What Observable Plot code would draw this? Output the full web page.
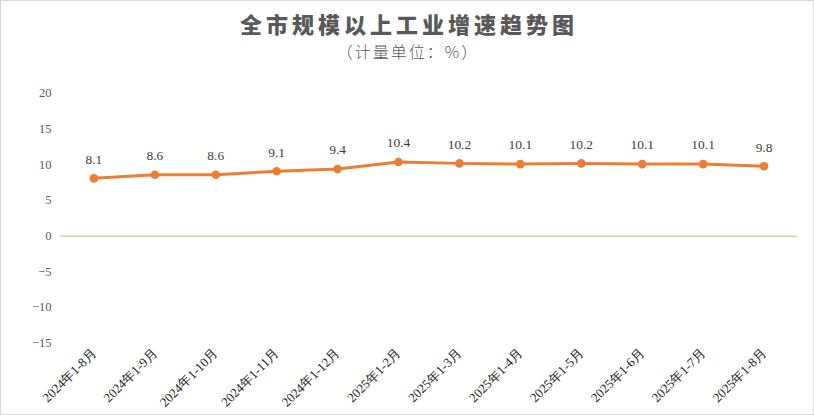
<!DOCTYPE html>
<html>
<head>
<meta charset="utf-8">
<script src="https://cdn.jsdelivr.net/npm/d3@7"></script>
<script src="https://cdn.jsdelivr.net/npm/@observablehq/plot@0.6"></script>
<style>
  html, body { margin: 0; padding: 0; background: #fff; }
  #wrap { width: 814px; height: 415px; box-sizing: border-box; border: 1px solid #d9d9d9; position: relative; overflow: hidden; background: #fff; }
  #title { position: absolute; left: 0; width: 816px; top: 8px; text-align: center; font-family: "Noto Sans CJK SC", sans-serif; font-weight: 900; font-size: 22px; color: #595959; letter-spacing: 4px; line-height: 28px; }
  #subtitle { position: absolute; left: 0; width: 814px; top: 39px; text-align: center; font-family: "Noto Sans CJK SC", sans-serif; font-weight: 300; font-size: 16px; color: #595959; letter-spacing: 2px; line-height: 22px; }
  #chart { position: absolute; left: -1px; top: 63px; }
</style>
</head>
<body>
<div id="wrap">
  <div id="title">全市规模以上工业增速趋势图</div>
  <div id="subtitle">（计量单位：%）</div>
  <div id="chart"></div>
</div>
<script>
const categories = ["2024年1-8月","2024年1-9月","2024年1-10月","2024年1-11月","2024年1-12月","2025年1-2月","2025年1-3月","2025年1-4月","2025年1-5月","2025年1-6月","2025年1-7月","2025年1-8月"];
const values = [8.1, 8.6, 8.6, 9.1, 9.4, 10.4, 10.2, 10.1, 10.2, 10.1, 10.1, 9.8];
const yTicks = [-15, -10, -5, 0, 5, 10, 15, 20];

const data = categories.map((c, i) => ({cat: c, v: values[i]}));
const serif = "Liberation Serif";

const chart = Plot.plot({
  width: 814,
  height: 352,
  marginTop: 29,
  marginBottom: 73,
  marginLeft: 60,
  marginRight: 16,
  style: {"font-family": serif, background: "transparent"},
  x: {type: "band", domain: categories, padding: 0},
  y: {domain: [-15, 20], ticks: yTicks},
  marks: [
    Plot.axisY({ticks: yTicks, tickSize: 0, tickPadding: 9, fontSize: 12.5, fontFamily: serif, color: "#595959", label: null}),
    Plot.axisX({tickSize: 0, tickRotate: -45, tickPadding: 8, fontSize: 13, fontFamily: serif, color: "#222", label: null}),
    Plot.ruleY([0], {stroke: "#9bd16b", strokeWidth: 1}),
    Plot.line(data, {x: "cat", y: "v", stroke: "#ED7D31", strokeWidth: 3}),
    Plot.dot(data, {x: "cat", y: "v", r: 4.3, fill: "#ED7D31", stroke: "none"}),
    Plot.text(data, {x: "cat", y: "v", text: d => d.v.toFixed(1), dy: -19, fontSize: 13.5, fontFamily: serif, fill: "#404040"})
  ]
});
document.getElementById("chart").appendChild(chart);
</script>
</body>
</html>
